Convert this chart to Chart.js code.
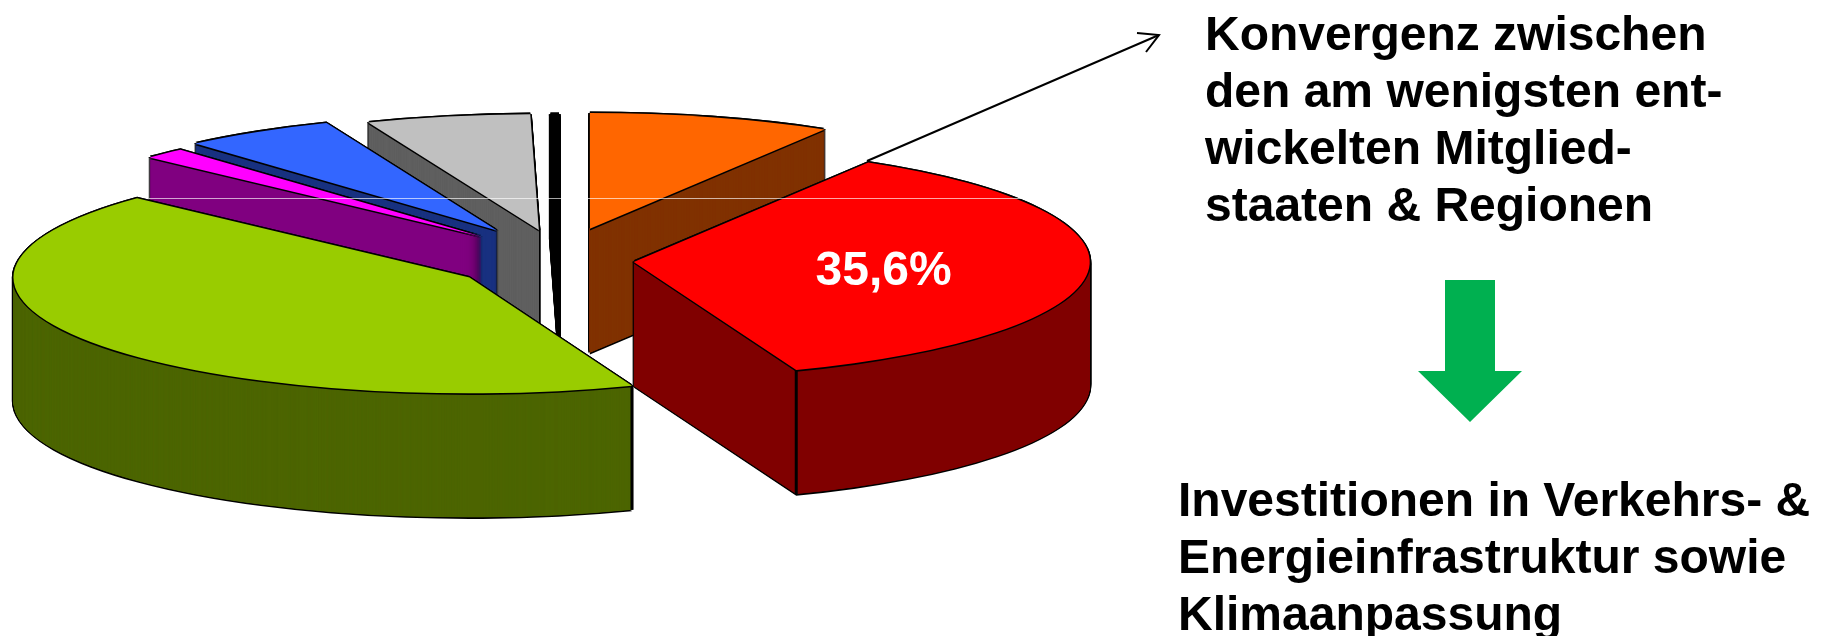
<!DOCTYPE html>
<html lang="de">
<head>
<meta charset="utf-8">
<title>Kreisdiagramm</title>
<script src="https://cdn.jsdelivr.net/npm/chart.js@4"></script>
<style>
html,body{margin:0;padding:0;background:#fff;width:1823px;height:636px;overflow:hidden}
#wrap{position:relative;width:1823px;height:636px}
canvas{position:absolute;left:0;top:0}
.t{position:absolute;font:bold 48px/57px "Liberation Sans",Arial,sans-serif;color:#000;white-space:nowrap}
</style>
</head>
<body>
<div id="wrap">
<canvas id="c" width="1823" height="636"></canvas>
<div class="t" style="left:1205px;top:5px">Konvergenz zwischen<br>den am wenigsten ent-<br>wickelten Mitglied-<br>staaten &amp; Regionen</div>
<div class="t" style="left:1178px;top:471px">Investitionen in Verkehrs- &amp;<br>Energieinfrastruktur sowie<br>Klimaanpassung</div>
</div>
<script>
// Data (share of funding, %)
const categories = ["Orange", "Rot", "Gruen", "Magenta", "Blau", "Grau", "Schwarz"];
const shares = [8.6, 35.6, 42.8, 1.5, 5.4, 5.8, 0.3];
const valueLabels = ["", "35,6%", "", "", "", "", ""];

// Styles
const topColors  = ["#FF6600", "#FF0000", "#99CC00", "#FF00FF", "#3366FF", "#C0C0C0", "#000000"];
const wallColors = ["#803300", "#800000", "#4D6600", "#800080", "#1A3380", "#606060", "#000000"];
const explodeBy  = [112, 74, 109, 112, 120, 106, 104];
const drawOrder  = [0, 6, 5, 4, 3, 1, 2];
const squash = 0.254, explodeTilt = 0.289, depth = 124, edge = 1.6;

function paint(ctx, arc, i, color, sx, sy) {
  const cx = arc.x, cy = arc.y;
  const mid = (arc.startAngle + arc.endAngle) / 2;
  const clone = Object.create(arc);
  clone.options = Object.assign({}, arc.options, {backgroundColor: color, borderWidth: 0});
  ctx.save();
  ctx.translate(cx + explodeBy[i] * Math.cos(mid) + sx, cy + explodeBy[i] * Math.sin(mid) * explodeTilt + sy);
  ctx.scale(1, squash);
  ctx.translate(-cx, -cy);
  clone.draw(ctx);
  ctx.restore();
}
const around = [[-edge, 0], [edge, 0], [0, -edge], [0, edge]];

const pie3d = {
  id: "pie3d",
  beforeDatasetDraw(chart) {
    const ctx = chart.ctx;
    const arcs = chart.getDatasetMeta(0).data;
    drawOrder.forEach(i => {
      const arc = arcs[i];
      // silhouette of the whole extruded slice
      for (let t = depth; t >= 0; t -= 1) {
        around.forEach(o => paint(ctx, arc, i, "#000", o[0], t + o[1]));
      }
      // walls
      for (let t = depth; t >= 1; t -= 0.25) paint(ctx, arc, i, wallColors[i], 0, t);
      // front corner of a wall
      const mid = (arc.startAngle + arc.endAngle) / 2;
      const ox = arc.x + explodeBy[i] * Math.cos(mid), oy = arc.y + explodeBy[i] * Math.sin(mid) * explodeTilt;
      [arc.startAngle, arc.endAngle].forEach(a => {
        if (Math.sin(a) > 0) {
          const px = ox + arc.outerRadius * Math.cos(a), py = oy + arc.outerRadius * Math.sin(a) * squash;
          ctx.save();
          ctx.strokeStyle = "#000"; ctx.lineWidth = 3;
          ctx.beginPath(); ctx.moveTo(px, py); ctx.lineTo(px, py + depth); ctx.stroke();
          ctx.restore();
        }
      });
      // top face with outline
      around.forEach(o => paint(ctx, arc, i, "#000", o[0], o[1]));
      paint(ctx, arc, i, topColors[i], 0, 0);
    });
    // value label on its slice
    arcs.forEach((arc, i) => {
      if (!valueLabels[i]) return;
      const mid = (arc.startAngle + arc.endAngle) / 2;
      const r = explodeBy[i], q = arc.outerRadius * 0.55;
      const x = arc.x + r * Math.cos(mid) + q * Math.cos(mid);
      const y = arc.y + r * Math.sin(mid) * explodeTilt + q * Math.sin(mid) * squash;
      ctx.save();
      ctx.fillStyle = "#fff";
      ctx.font = 'bold 48px "Liberation Sans", Arial, sans-serif';
      ctx.textAlign = "center"; ctx.textBaseline = "middle";
      ctx.fillText(valueLabels[i], x, y + 4);
      ctx.restore();
    });
    return false;
  },
  afterDraw(chart) {
    const ctx = chart.ctx;
    ctx.save();
    // faint seam across the picture
    ctx.strokeStyle = "rgba(255,255,255,0.65)"; ctx.lineWidth = 1;
    ctx.beginPath(); ctx.moveTo(149, 198.5); ctx.lineTo(1035, 198.5); ctx.stroke();
    // pointer line with open arrow head
    ctx.strokeStyle = "#000"; ctx.lineWidth = 2;
    ctx.beginPath(); ctx.moveTo(867, 161); ctx.lineTo(1159, 35); ctx.stroke();
    ctx.beginPath(); ctx.moveTo(1137, 33); ctx.lineTo(1159, 35); ctx.lineTo(1146, 52); ctx.stroke();
    // green arrow
    ctx.fillStyle = "#00B050";
    ctx.beginPath();
    ctx.moveTo(1445, 280); ctx.lineTo(1495, 280); ctx.lineTo(1495, 371); ctx.lineTo(1522, 371);
    ctx.lineTo(1470, 422); ctx.lineTo(1418, 371); ctx.lineTo(1445, 371);
    ctx.closePath(); ctx.fill();
    ctx.restore();
  }
};

new Chart(document.getElementById("c"), {
  type: "pie",
  data: {labels: categories, datasets: [{data: shares, backgroundColor: topColors, borderWidth: 0}]},
  options: {
    responsive: false,
    animation: false,
    devicePixelRatio: 1,
    radius: 456,
    layout: {padding: {left: 0, top: 0, right: 703, bottom: 116}},
    plugins: {legend: {display: false}, tooltip: {enabled: false}, title: {display: false}}
  },
  plugins: [pie3d]
});
</script>
</body>
</html>
